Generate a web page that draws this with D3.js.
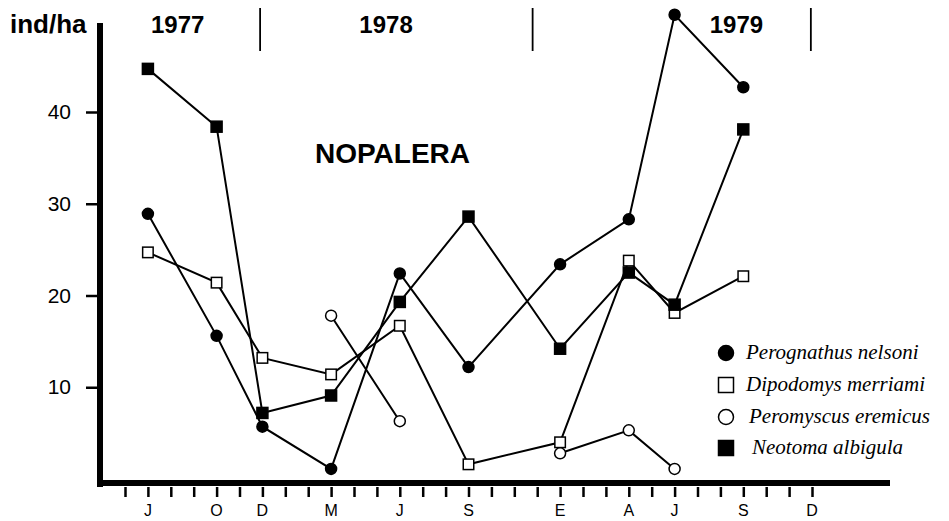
<!DOCTYPE html>
<html>
<head>
<meta charset="utf-8">
<script src="https://cdn.jsdelivr.net/npm/d3@7"></script>
<style>
    body { margin: 0; background: #fff; }
    svg { display: block; }
    .sans { font-family: "Liberation Sans", Arial, Helvetica, sans-serif; }
    .legend text { font-family: "Liberation Serif", "Times New Roman", serif; font-style: italic; }
</style>
</head>
<body>
<svg id="chart" width="949" height="521"></svg>
<script>
// months counted from June 1977 (0) to December 1979 (30)
var sampleMonths = [1, 4, 6, 9, 12, 15, 19, 22, 24, 27];

var perognathus = [28.9, 15.6, 5.7, 1.1, 22.4, 12.2, 23.4, 28.3, 50.6, 42.7];
var dipodomys   = [24.7, 21.4, 13.2, 11.4, 16.7, 1.6, 4.0, 23.8, 18.1, 22.1];
var peromyscus  = [null, null, null, 17.8, 6.3, null, 2.8, 5.3, 1.1, null];
var neotoma     = [44.7, 38.4, 7.2, 9.1, 19.3, 28.6, 14.2, 22.5, 19.0, 38.1];

var monthLabels = [
    {m: 1, t: "J"}, {m: 4, t: "O"}, {m: 6, t: "D"}, {m: 9, t: "M"},
    {m: 12, t: "J"}, {m: 15, t: "S"}, {m: 19, t: "E"}, {m: 22, t: "A"},
    {m: 24, t: "J"}, {m: 27, t: "S"}, {m: 30, t: "D"}
];
var yearLabels = [{m: 2.3, t: "1977"}, {m: 11.4, t: "1978"}, {m: 26.7, t: "1979"}];
var yearBreaks = [5.9, 17.8, 29.95];
var yTicks = [10, 20, 30, 40];

var seriesNames = ["Perognathus nelsoni", "Dipodomys merriami", "Peromyscus eremicus", "Neotoma albigula"];
var seriesValues = [perognathus, dipodomys, peromyscus, neotoma];
var seriesMarks = ["dot", "box", "ring", "block"];

var svg = d3.select("#chart");

var x = d3.scaleLinear().domain([0, 30]).range([125, 812]);
var y = d3.scaleLinear().domain([0, 40]).range([479, 112]);

function drawMark(sel, kind, size){
    var h = size / 2;
    if(kind == "dot" || kind == "ring"){
        sel.append("circle")
            .attr("r", h)
            .attr("fill", kind == "dot" ? "#000" : "#fff")
            .attr("stroke", "#000")
            .attr("stroke-width", 1.5);
    } else {
        sel.append("rect")
            .attr("x", -h).attr("y", -h)
            .attr("width", size).attr("height", size)
            .attr("fill", kind == "block" ? "#000" : "#fff")
            .attr("stroke", "#000")
            .attr("stroke-width", 1.5);
    }
}

// axes
var yAxis = svg.append("g")
    .attr("class", "sans")
    .attr("transform", "translate(100,0)")
    .call(d3.axisLeft(y).tickValues(yTicks).tickSize(14).tickPadding(15));
yAxis.select(".domain").remove();
yAxis.selectAll(".tick line").attr("stroke-width", 2.5);
yAxis.selectAll(".tick text")
    .attr("font-size", 21)
    .attr("font-family", "Liberation Sans, Arial, sans-serif")
    .attr("fill", "#000");

var xAxis = svg.append("g")
    .attr("transform", "translate(0,487)")
    .call(d3.axisBottom(x).ticks(30).tickSize(10).tickFormat(""));
xAxis.select(".domain").remove();
xAxis.selectAll(".tick line").attr("stroke-width", 2.5);

svg.selectAll("text.month").data(monthLabels).enter().append("text")
    .attr("class", "month sans")
    .attr("x", function(d){ return x(d.m); })
    .attr("y", 516)
    .attr("text-anchor", "middle")
    .attr("font-size", 16)
    .text(function(d){ return d.t; });

// thick axis lines
svg.append("line")
    .attr("x1", 100).attr("x2", 100).attr("y1", 23).attr("y2", 487)
    .attr("stroke", "#000").attr("stroke-width", 6);
svg.append("line")
    .attr("x1", 97).attr("x2", 890).attr("y1", 483).attr("y2", 483)
    .attr("stroke", "#000").attr("stroke-width", 6);

// year header
svg.selectAll("line.year").data(yearBreaks).enter().append("line")
    .attr("class", "year")
    .attr("x1", function(d){ return x(d); })
    .attr("x2", function(d){ return x(d); })
    .attr("y1", 8).attr("y2", 51)
    .attr("stroke", "#000").attr("stroke-width", 1.8);

svg.selectAll("text.year").data(yearLabels).enter().append("text")
    .attr("class", "year sans")
    .attr("x", function(d){ return x(d.m); })
    .attr("y", 33)
    .attr("text-anchor", "middle")
    .attr("font-size", 24)
    .attr("font-weight", "bold")
    .text(function(d){ return d.t; });

svg.append("text")
    .attr("class", "sans")
    .attr("x", 10).attr("y", 33)
    .attr("font-size", 26)
    .attr("font-weight", "bold")
    .text("ind/ha");

svg.append("text")
    .attr("class", "sans")
    .attr("x", 315).attr("y", 163)
    .attr("font-size", 28)
    .attr("font-weight", "bold")
    .text("NOPALERA");

// series lines then markers
var line = d3.line()
    .defined(function(d){ return d != null; })
    .x(function(d, i){ return x(sampleMonths[i]); })
    .y(function(d){ return y(d); });

seriesValues.forEach(function(vals){
    svg.append("path")
        .attr("d", line(vals))
        .attr("fill", "none")
        .attr("stroke", "#000")
        .attr("stroke-width", 2);
});

seriesValues.forEach(function(vals, s){
    var size = seriesMarks[s] == "box" ? 10.5 : 11;
    vals.forEach(function(v, i){
        if(v == null){ return; }
        var g = svg.append("g")
            .attr("transform", "translate(" + x(sampleMonths[i]) + "," + y(v) + ")");
        drawMark(g, seriesMarks[s], size);
    });
});

// legend
var legendY = [353, 385, 417, 448];
var legendX = [746, 746, 749, 752];
var legend = svg.append("g").attr("class", "legend");
seriesNames.forEach(function(name, i){
    var g = legend.append("g").attr("transform", "translate(726," + legendY[i] + ")");
    drawMark(g, seriesMarks[i], 15);
    legend.append("text")
        .attr("x", legendX[i])
        .attr("y", legendY[i] + 6)
        .attr("font-size", 21)
        .text(name);
});
</script>
</body>
</html>
